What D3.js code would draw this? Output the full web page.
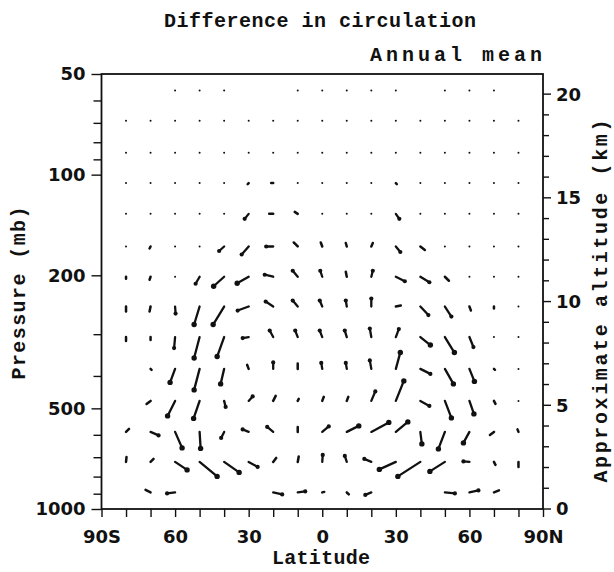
<!DOCTYPE html>
<html>
<head>
<meta charset="utf-8">
<script src="https://cdn.jsdelivr.net/npm/d3@7"></script>
<style>
  body { margin: 0; background: #fff; }
  svg { display: block; }
  .mono { font-family: "Liberation Mono", "Courier New", monospace; font-weight: bold; fill: #111; }
  .tick text { font-family: "DejaVu Sans", sans-serif; font-weight: bold; font-size: 18px; fill: #111; }
  .tick line { stroke: #111; stroke-width: 1.4; }
</style>
</head>
<body>
<div id="chart"></div>
<script>
// grid of the circulation difference (latitude x pressure level)
const latitudes = [-80, -70, -60, -50, -40, -30, -20, -10, 0, 10, 20, 30, 40, 50, 60, 70, 80];
const pressureLevels = [56, 69, 86, 106, 131, 164, 202, 248, 306, 381, 475, 588, 723, 892];

// meridional component (+ = northward), one row per pressure level, null = no vector
const uComp = [
  [null, null, 0, 0, 0, null, null, 0, 0, 0, 0, 0, null, 0, 0, 0, null],
  [0, 0, 0, 0, 0, 0, 0, 0, 0, 0, 0, 0, 0, 0, 0, 0, 0],
  [0, 0, 0, 0, 0, 0, 0, 0, 0, 0, 0, 0, 0, 0, 0, 0, 0],
  [0, 0, 0, 0, 0, -1, -2, 0, 0, 0, 0, 1, 0, 0, 0, 0, 0],
  [0, 0, 0, 0, 0.5, -4, -4, -3, 0, 0, -1, 3.5, 0, 0, 0, 0, 0],
  [0, -1, 0, 0, -5, -7, -7, -4, -1.5, -1, 1.5, 4.5, 4.5, 1, 0, 0, 0],
  [0, -1, 0, -4, -10.5, -11.5, -8.5, -5, -2, -1, 1.5, 9, 9, 4, 0, 0, 0],
  [0, -1, 0.5, -5.5, -11, -11, -7.5, -5, -2.5, -1, 0, 5, 8, 6.5, 1.5, 0, 0],
  [0, 0, -1, -5.5, -7, -6, -3.5, -2.5, -2.5, -2, -1.5, 3, 10, 9.5, 4, 0.5, 0.5],
  [null, 1, -5, -5.5, -3.5, -1.5, 0, 0, -1, -1, -1.5, 4.5, 10, 8.5, 5, 1, 0],
  [null, -4, -7.5, -6, 1.5, 4, 2.5, 1, 1.5, 1.5, 4, 8, 9, 6.5, 4.5, 1.5, 0.5],
  [3, 8, 7, 1, -3, -6, -6, 0, 6.5, 12, 17.5, 12, 1.5, -6.5, -6, -4, -1],
  [0.5, 3, 12, 17.5, 15, 9, 3, 1, 0.5, -2, -7, -16.5, -22.5, -15, -6, 1.5, 0],
  [null, -5, -8, null, null, null, 9, 7.5, 2, 2, -6, null, null, 10, 9, 5, null]
];

// vertical component (+ = upward)
const wComp = [
  [null, null, 0, 0, 0, null, null, 0, 0, 0, 0, 0, null, 0, 0, 0, null],
  [0, 0, 0, 0, 0, 0, 0, 0, 0, 0, 0, 0, 0, 0, 0, 0, 0],
  [0, 0, 0, 0, 0, 0, 0, 0, 0, 0, 0, 0, 0, 0, 0, 0, 0],
  [0, 0, 0, 0, 0, -1, 0, 0, 0, 0, 0, -1, 0, 0, 0, 0, 0],
  [0, 0, 0, 0, -1, -5, 0, 2, 0, 0, 0, -5, 0, 0, 0, 0, 0],
  [0, -2, 0, -1, -4.5, -8, 0, 4, 4, 3.5, 3.5, -5.5, -3.5, 0, 0, -1, 0],
  [-2, -3, -1, -7, -9.5, -6.5, 2, 6, 6, 5, 6, -4.5, -5.5, -4, -1, -1, -1],
  [-5, -5, -7, -18, -18, -4, 5, 6, 6, 6, 8, 1, -8.5, -10, -4, -2, -1],
  [-4, -3, -11, -21, -19.5, -1, 6.5, 6.5, 6.5, 6.5, 8.5, 8, -8, -15.5, -10, -1, -1],
  [null, -1, -13.5, -21, -15, 4, 6.5, 5.5, 6, 6, 8.5, 16.5, -5, -15, -12.5, -1, 0],
  [null, -3, -15, -17.5, -6, 4.5, 5, 2, 4, 4, 9.5, 20, -5, -17, -13, -3, 0],
  [3, -3.5, -16, -16.5, -6, 2.5, 5, 5, 5.5, 6, 9.5, 10, -12, -17, -11, -3, 2.5],
  [5, 3, -8, -14.5, -10.5, -5, 4, 5.5, 7, 6, 3, -7.5, -14.5, -9.5, 0.5, -3, -5],
  [null, 2.5, -1, null, null, null, -2, 1, 0.5, -2, -2.5, null, null, -1, 2, 2, null]
];

// axes
const latTicks = d3.range(-90, 91, 10);
const latLabels = {"-90": "90S", "-60": "60", "-30": "30", "0": "0", "30": "30", "60": "60", "90": "90N"};
const pMajor = [50, 100, 200, 500, 1000];
const pMinor = [60, 70, 80, 90, 300, 400, 600, 700, 800, 900];
const altTicks = d3.range(0, 21, 1);
const altLabels = [0, 5, 10, 15, 20];

const W = 614, Hh = 572;
const plot = {left: 101.5, right: 543, top: 74, bottom: 509};
const scaleHeight = 7; // km, for the approximate altitude axis

const svg = d3.select("#chart").append("svg").attr("width", W).attr("height", Hh);

const x = d3.scaleLinear().domain([-90, 90]).range([plot.left, plot.right]);
const y = d3.scaleLog().domain([50, 1000]).range([plot.top, plot.bottom]);
const altToP = z => 1000 * Math.exp(-z / scaleHeight);
const arrowLen = d3.scaleLinear().domain([0, 10]).range([0, 10]);

// flatten the grid
const vectors = [];
pressureLevels.forEach((p, i) => {
  latitudes.forEach((lat, j) => {
    if (uComp[i][j] === null) return;
    const x0 = x(lat), y0 = y(p);
    const x1 = x0 + arrowLen(uComp[i][j]), y1 = y0 - arrowLen(wComp[i][j]);
    vectors.push({x0, y0, x1, y1, len: Math.hypot(x1 - x0, y1 - y0)});
  });
});

// Left axis (pressure)
svg.append("g")
  .attr("transform", "translate(" + plot.left + ",0)")
  .call(d3.axisLeft(y).tickValues(pMajor).tickSize(10).tickPadding(6).tickFormat(d3.format("d")))
  .call(g => g.select(".domain").remove());
svg.append("g")
  .attr("transform", "translate(" + plot.left + ",0)")
  .call(d3.axisLeft(y).tickValues(pMinor).tickSize(8).tickFormat(""))
  .call(g => g.select(".domain").remove());

// Bottom axis (latitude)
svg.append("g")
  .attr("transform", "translate(0," + plot.bottom + ")")
  .call(d3.axisBottom(x).tickValues(latTicks).tickSize(8).tickPadding(13)
    .tickFormat(d => latLabels[d] || ""))
  .call(g => g.select(".domain").remove());

// Right axis (approximate altitude), drawn by hand since it is not a d3 scale
const right = svg.append("g");
right.selectAll("line")
  .data(altTicks)
  .enter()
  .append("line")
  .attr("x1", plot.right)
  .attr("x2", d => plot.right + (d % 5 === 0 ? 8 : 6))
  .attr("y1", d => y(altToP(d)))
  .attr("y2", d => y(altToP(d)))
  .attr("stroke", "#111")
  .attr("stroke-width", 1.4);
right.selectAll("text")
  .data(altLabels)
  .enter()
  .append("text")
  .attr("x", plot.right + 13)
  .attr("y", d => y(altToP(d)))
  .attr("dy", "0.36em")
  .style("font-family", "'DejaVu Sans', sans-serif")
  .style("font-weight", "bold")
  .style("font-size", "18px")
  .style("fill", "#111")
  .text(d => d);

// frame
svg.append("rect")
  .attr("x", plot.left).attr("y", plot.top)
  .attr("width", plot.right - plot.left).attr("height", plot.bottom - plot.top)
  .attr("fill", "none").attr("stroke", "#111").attr("stroke-width", 1.8);

// vectors: zero ones as dots, the others as a shaft with a blob head
const vecG = svg.append("g");
vecG.selectAll(".dot")
  .data(vectors.filter(d => d.len < 1.2))
  .enter()
  .append("circle")
  .attr("cx", d => d.x0).attr("cy", d => d.y0).attr("r", 1)
  .attr("fill", "#111");
vecG.selectAll(".shaft")
  .data(vectors.filter(d => d.len >= 1.2))
  .enter()
  .append("line")
  .attr("x1", d => d.x0).attr("y1", d => d.y0)
  .attr("x2", d => d.x1).attr("y2", d => d.y1)
  .attr("stroke", "#111")
  .attr("stroke-width", d => d.len > 6 ? 2.3 : 2.5)
  .attr("stroke-linecap", "round");
vecG.selectAll(".head")
  .data(vectors.filter(d => d.len > 6))
  .enter()
  .append("circle")
  .attr("cx", d => d.x1).attr("cy", d => d.y1)
  .attr("r", d => d.len > 12 ? 2.7 : 2.1)
  .attr("fill", "#111");

// titles
svg.append("text").attr("class", "mono")
  .attr("x", 320).attr("y", 27).attr("text-anchor", "middle")
  .attr("font-size", 20).attr("textLength", 312).attr("lengthAdjust", "spacing")
  .text("Difference in circulation");
svg.append("text").attr("class", "mono")
  .attr("x", 542).attr("y", 61).attr("text-anchor", "end")
  .attr("font-size", 20).attr("textLength", 172).attr("lengthAdjust", "spacing")
  .text("Annual mean");
svg.append("text").attr("class", "mono")
  .attr("x", 321).attr("y", 564).attr("text-anchor", "middle")
  .attr("font-size", 20).attr("textLength", 98).attr("lengthAdjust", "spacing")
  .text("Latitude");
svg.append("text").attr("class", "mono")
  .attr("transform", "translate(25,293) rotate(-90)").attr("text-anchor", "middle")
  .attr("font-size", 20).attr("textLength", 173).attr("lengthAdjust", "spacing")
  .text("Pressure (mb)");
svg.append("text").attr("class", "mono")
  .attr("transform", "translate(607,301) rotate(-90)").attr("text-anchor", "middle")
  .attr("font-size", 20).attr("textLength", 363).attr("lengthAdjust", "spacing")
  .text("Approximate altitude (km)");
</script>
</body>
</html>
